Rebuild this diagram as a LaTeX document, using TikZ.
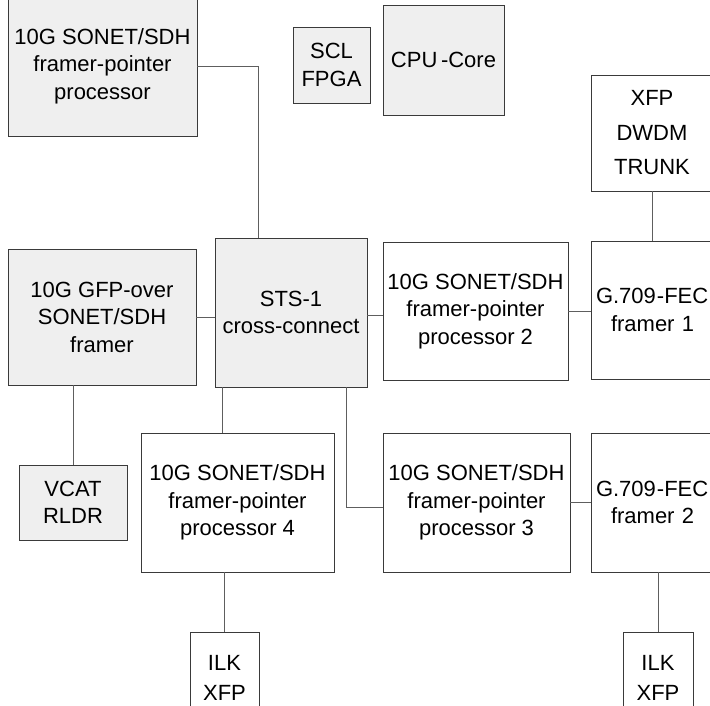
\documentclass[tikz,border=0pt]{standalone}
\usepackage{fontspec}
\setmainfont{Liberation Sans}
\usetikzlibrary{positioning, calc}
\definecolor{blkFill}{HTML}{EFEFEF}
\definecolor{blkLine}{HTML}{3A3A3A}
\definecolor{blkWire}{HTML}{5E5E5E}

\begin{document}
\begin{tikzpicture}[x=1bp, y=-1bp,
    blk/.style={draw=blkLine, line width=0.9bp, fill=white, align=center, inner sep=0pt,
                font=\fontsize{22bp}{27.5bp}\selectfont},
    gblk/.style={blk, fill=blkFill},
    fec/.style={blk, align=left, text width=120bp, inner xsep=5bp},
    wire/.style={draw=blkWire, line width=0.9bp}]
  \useasboundingbox (0,0) rectangle (710,706);
  \clip (0,0) rectangle (710,706);
  % górny rząd
  \node[gblk, minimum width=189bp, minimum height=140bp] (fpp) at (102.5,66) {10G SONET/SDH\\framer-pointer\\processor};
  \node[gblk, minimum width=77bp, minimum height=76bp] (scl) at (331.5,65) {SCL\\FPGA};
  \node[gblk, minimum width=121bp, minimum height=110bp] (cpu) at (443.5,60) {CPU\,-Core};
  \node[blk, minimum width=122bp, minimum height=116bp,
        font=\fontsize{22bp}{34.5bp}\selectfont] (xfp) at (652,133) {XFP\\DWDM\\TRUNK};
  % środkowy rząd
  \node[gblk, minimum width=188bp, minimum height=136bp] (gfp) at (102,317) {10G GFP-over\\SONET/SDH\\framer};
  \node[gblk, minimum width=152bp, minimum height=149bp] (sts) at (291,312.5) {STS-1\\cross-connect};
  \node[blk, minimum width=185bp, minimum height=138bp] (p2) at (475.5,311) {10G SONET/SDH\\framer-pointer\\processor 2};
  \node[fec, minimum height=138bp] (g1) at (656,310) {G.709\kern1bp-FEC\\\hspace*{15bp}framer 1};
  % dolny rząd
  \node[gblk, minimum width=108bp, minimum height=75bp] (vcat) at (73,502.5) {VCAT\\RLDR};
  \node[blk, minimum width=193bp, minimum height=139bp] (p4) at (237.5,502.5) {10G SONET/SDH\\framer-pointer\\processor 4};
  \node[blk, minimum width=187bp, minimum height=139bp] (p3) at (476.5,502.5) {10G SONET/SDH\\framer-pointer\\processor 3};
  \node[fec, minimum height=139bp] (g2) at (656,502.5) {G.709\kern1bp-FEC\\\hspace*{15bp}framer 2};
  \node[blk, minimum width=69bp, minimum height=91bp,
        font=\fontsize{22bp}{29.5bp}\selectfont] (ilk1) at (224.5,678) {ILK\\XFP};
  \node[blk, minimum width=70bp, minimum height=91bp,
        font=\fontsize{22bp}{29.5bp}\selectfont] (ilk2) at (658,678) {ILK\\XFP};
  % połączenia
  \draw[wire] (fpp.east) -| ([xshift=-33bp]sts.north);
  \draw[wire] (gfp.east) -- (gfp.east -| sts.west);
  \draw[wire] ([yshift=-3bp]sts.east) -- ([yshift=-3bp]sts.east -| p2.west);
  \draw[wire] (p2.east) -- (p2.east -| g1.west);
  \draw[wire] (xfp.south) -- (xfp.south |- g1.north);
  \draw[wire] (vcat.north |- gfp.south) -- (vcat.north);
  \draw[wire] ([xshift=8bp]sts.south west) -- ([xshift=8bp]sts.south west |- p4.north);
  \draw[wire] ([xshift=-21bp]sts.south east) |- ([yshift=-4.5bp]p3.west);
  \draw[wire] (p3.east) -- (p3.east -| g2.west);
  \draw[wire] (ilk1.north |- p4.south) -- (ilk1.north);
  \draw[wire] (ilk2.north |- g2.south) -- (ilk2.north);
\end{tikzpicture}
\end{document}
